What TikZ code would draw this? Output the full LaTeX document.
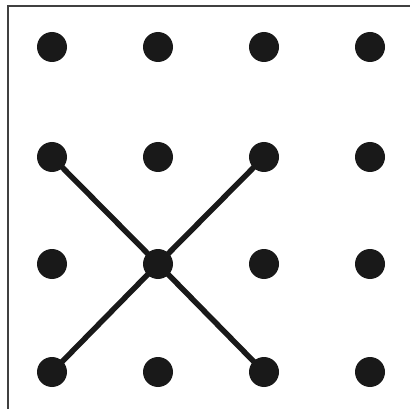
\documentclass[tikz,border=0pt]{standalone}
\usetikzlibrary{positioning}

\tikzset{
  dot/.style={circle, fill=black!90, inner sep=0pt, minimum size=30pt},
  stroke/.style={line width=5.5pt, color=black!90}
}

\begin{document}
\begin{tikzpicture}[x=1pt, y=-1pt]
    % Batas gambar
    \useasboundingbox (0,0) rectangle (410,409);
    \draw[line width=1.3pt, color=black!75] (8,409) -- (8,6) -- (410,6);

    % Titik-titik grid
    \foreach \i/\x in {1/52,2/158,3/264,4/370} {
        \foreach \j/\y in {1/47,2/157,3/264,4/372} {
            \node[dot] (d\i\j) at (\x,\y) {};
        }
    }

    % Garis silang
    \draw[stroke] (d12.center) -- (d23.center) -- (d34.center);
    \draw[stroke] (d14.center) -- (d23.center) -- (d32.center);
\end{tikzpicture}
\end{document}
